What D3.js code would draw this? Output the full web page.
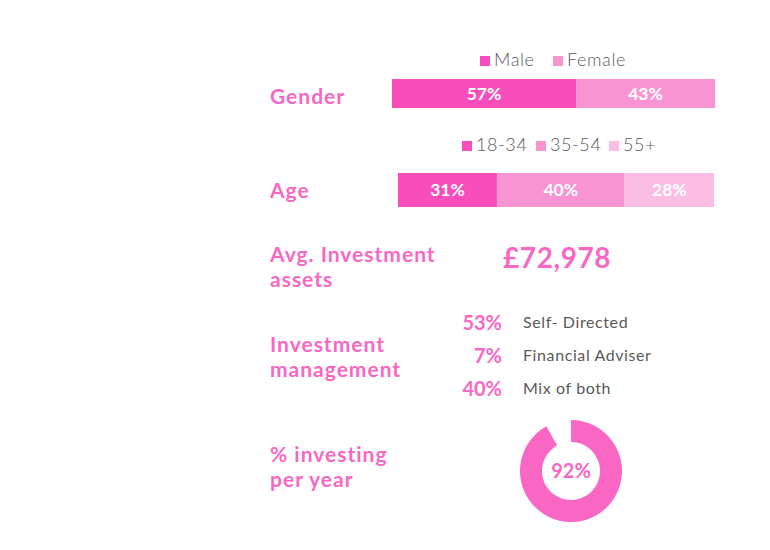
<!DOCTYPE html>
<html>
<head>
<meta charset="utf-8">
<script src="https://cdn.jsdelivr.net/npm/d3@7"></script>
<style>
  body { margin: 0; background: #fff; }
  svg { display: block; font-family: Lato, "Noto Sans", sans-serif; }
</style>
</head>
<body>
<div id="chart"></div>
<script>
// data
var genderKeys = ["Male", "Female"];
var genderValues = [57, 43];
var ageKeys = ["18-34", "35-54", "55+"];
var ageValues = [31, 40, 28];
var avgAssets = 72978;
var mgmtLabels = ["Self- Directed", "Financial Adviser", "Mix of both"];
var mgmtValues = [53, 7, 40];
var investingPct = 92;

var width = 770, height = 550;
var pinks = ["#f84dbb", "#f994d2", "#fbbde3"];
var labelPink = "#f768c4";
var grey = "#595959";

var svg = d3.select("#chart").append("svg")
  .attr("width", width)
  .attr("height", height);

function rowLabel(lines, x, y, lh) {
  lines.forEach(function(l, i) {
    svg.append("text")
      .attr("x", x).attr("y", y + i * lh)
      .attr("fill", labelPink)
      .attr("font-weight", "bold")
      .attr("font-size", 21)
      .attr("letter-spacing", 1)
      .text(l);
  });
}

function legend(keys, xs, y) {
  var g = svg.append("g");
  keys.forEach(function(k, i) {
    g.append("rect")
      .attr("x", xs[i]).attr("y", y - 10)
      .attr("width", 10).attr("height", 10)
      .attr("fill", pinks[i]);
    g.append("text")
      .attr("x", xs[i] + 14).attr("y", y)
      .attr("fill", grey)
      .attr("font-size", 18)
      .attr("font-weight", 300)
      .attr("letter-spacing", 0.6)
      .text(k);
  });
}

function stackBar(values, x0, x1, y, h) {
  var total = d3.sum(values);
  var x = d3.scaleLinear().domain([0, total]).range([x0, x1]);
  var cum = d3.cumsum(values);
  var data = values.map(function(v, i) { return { v: v, start: cum[i] - v, end: cum[i], i: i }; });
  var g = svg.append("g");
  g.selectAll("rect").data(data).enter().append("rect")
    .attr("x", function(d) { return x(d.start); })
    .attr("y", y)
    .attr("width", function(d) { return x(d.end) - x(d.start); })
    .attr("height", h)
    .attr("fill", function(d) { return pinks[d.i]; });
  g.selectAll("text").data(data).enter().append("text")
    .attr("x", function(d) { return (x(d.start) + x(d.end)) / 2; })
    .attr("y", y + h / 2)
    .attr("dy", "0.36em")
    .attr("text-anchor", "middle")
    .attr("fill", "#fff")
    .attr("font-weight", "bold")
    .attr("font-size", 17.5)
    .text(function(d) { return d.v + "%"; });
}

// Gender
legend(genderKeys, [480, 553], 66);
rowLabel(["Gender"], 270, 104, 0);
stackBar(genderValues, 392, 715, 79, 29);

// Age
legend(ageKeys, [462, 536, 609], 151);
rowLabel(["Age"], 270, 198, 0);
stackBar(ageValues, 398, 714, 173, 34);

// Avg assets
rowLabel(["Avg. Investment", "assets"], 270, 262, 25);
svg.append("text")
  .attr("x", 503).attr("y", 268)
  .attr("fill", labelPink)
  .attr("font-weight", "bold")
  .attr("font-size", 28)
  .attr("letter-spacing", 0.6)
  .text("£" + d3.format(",")(avgAssets));

// Investment management
rowLabel(["Investment", "management"], 270, 352, 25);
var my = d3.scalePoint().domain(mgmtLabels).range([330, 396]);
svg.selectAll(".mgv").data(mgmtValues).enter().append("text")
  .attr("x", 502)
  .attr("y", function(d, i) { return my(mgmtLabels[i]); })
  .attr("text-anchor", "end")
  .attr("fill", labelPink)
  .attr("font-weight", "bold")
  .attr("font-size", 20)
  .text(function(d) { return d + "%"; });
svg.selectAll(".mgl").data(mgmtLabels).enter().append("text")
  .attr("x", 523)
  .attr("y", function(d) { return my(d) - 2; })
  .attr("fill", grey)
  .attr("font-size", 16)
  .attr("letter-spacing", 0.6)
  .text(function(d) { return d; });

// % investing
rowLabel(["% investing", "per year"], 270, 462, 25);
var pie = d3.pie().sort(null)([investingPct, 100 - investingPct]);
var arc = d3.arc().innerRadius(29).outerRadius(51);
var dg = svg.append("g").attr("transform", "translate(571,471)");
dg.append("path")
  .attr("d", arc(pie[0]))
  .attr("fill", "#fa66c4");
dg.append("text")
  .attr("text-anchor", "middle")
  .attr("dy", "0.36em")
  .attr("fill", "#fa66c4")
  .attr("font-size", 20)
  .attr("font-weight", "bold")
  .text(investingPct + "%");
</script>
</body>
</html>
